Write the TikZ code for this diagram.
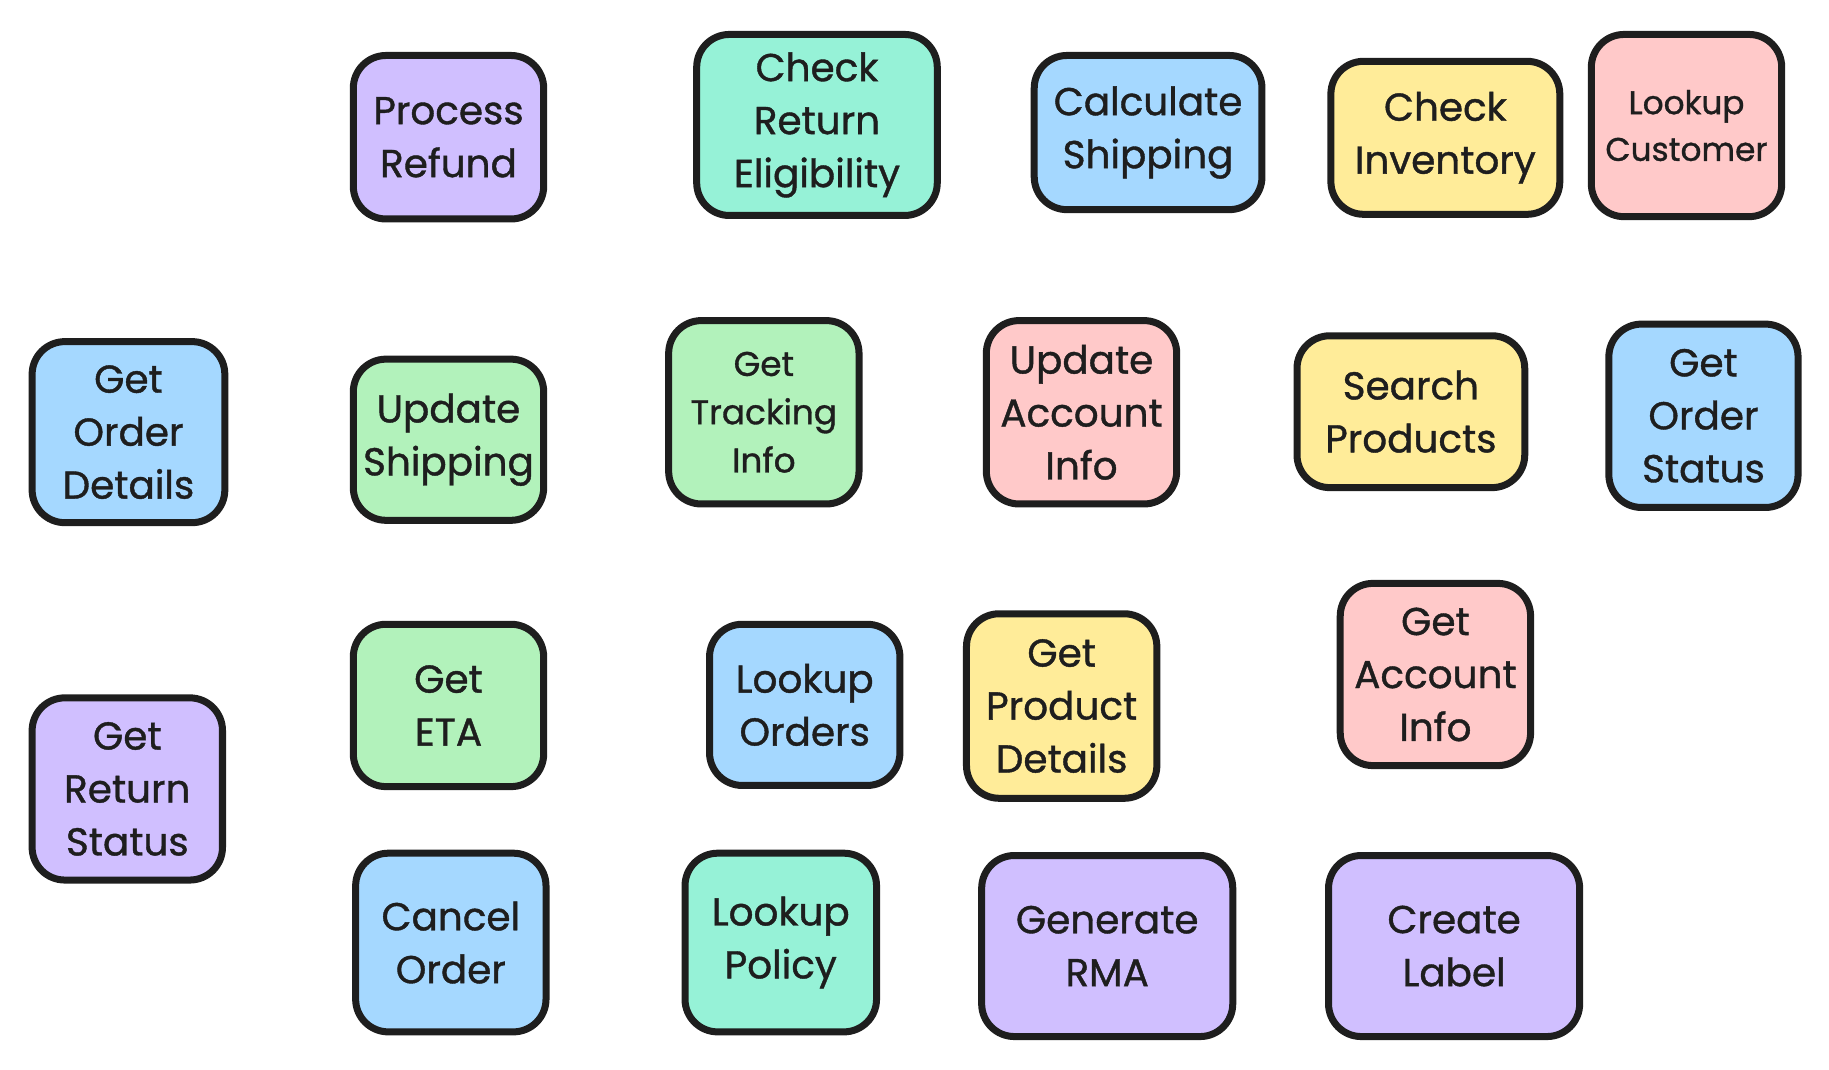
\documentclass[tikz,border=0pt]{standalone}
\usepackage{fontspec}
\setmainfont{Poppins}
\newfontfamily\handfont{Poppins}[FakeBold=1]
\definecolor{ink}{RGB}{30,30,30}
\definecolor{purp}{HTML}{D0BFFF}
\definecolor{teal}{HTML}{96F2D7}
\definecolor{sky}{HTML}{A5D8FF}
\definecolor{lemon}{HTML}{FFEC99}
\definecolor{rose}{HTML}{FFC9C9}
\definecolor{mint}{HTML}{B2F2BB}
\tikzset{
  tool/.style={draw=ink, line width=4.5pt, rounded corners=21pt, align=center, text=ink,
    inner sep=0pt, font=\handfont\fontsize{25}{34}\selectfont}
}
\begin{document}
\begin{tikzpicture}[x=0.75pt,y=0.75pt,yscale=-1,xscale=1]
\useasboundingbox (0,0) rectangle (1566,916);

%Row 1
\node [tool, fill=purp, minimum width=122.25pt, minimum height=105pt] (procRefund) at (384,117.5) {Process\\Refund};
\node [tool, fill=teal, minimum width=154.5pt, minimum height=116.25pt] (chkReturn) at (699.5,107) {Check\\Return\\Eligibility};
\node [tool, fill=sky, minimum width=146.25pt, minimum height=99pt] (calcShip) at (983,113.5) {Calculate\\Shipping};
\node [tool, fill=lemon, minimum width=147pt, minimum height=98.25pt] (chkInv) at (1237.5,118) {Check\\Inventory};
\node [tool, fill=rose, minimum width=122.25pt, minimum height=117pt, font=\handfont\fontsize{21}{30}\selectfont] (lookCust) at (1444,107.5) {Lookup\\Customer};

%Row 2
\node [tool, fill=sky, minimum width=123.75pt, minimum height=116.25pt] (getOrdDet) at (110,370) {Get\\Order\\Details};
\node [tool, fill=mint, minimum width=122.25pt, minimum height=103.5pt] (updShip) at (384,376.5) {Update\\Shipping};
\node [tool, fill=mint, minimum width=122.25pt, minimum height=117.75pt, font=\handfont\fontsize{22}{31}\selectfont] (getTrack) at (654,353) {Get\\Tracking\\Info};
\node [tool, fill=rose, minimum width=122.25pt, minimum height=117.75pt] (updAcct) at (926,353) {Update\\Account\\Info};
\node [tool, fill=lemon, minimum width=146.25pt, minimum height=97.5pt] (searchProd) at (1208,352.5) {Search\\Products};
\node [tool, fill=sky, minimum width=121.5pt, minimum height=117.75pt] (getOrdStat) at (1458.5,356) {Get\\Order\\Status};

%Row 3
\node [tool, fill=purp, minimum width=122.25pt, minimum height=117pt] (getRetStat) at (109,675.5) {Get\\Return\\Status};
\node [tool, fill=mint, minimum width=122.25pt, minimum height=104.25pt] (getEta) at (384,604) {Get\\ETA};
\node [tool, fill=sky, minimum width=122.25pt, minimum height=103.5pt] (lookOrders) at (689,603.5) {Lookup\\Orders};
\node [tool, fill=lemon, minimum width=122.25pt, minimum height=118.5pt] (getProdDet) at (909,604.5) {Get\\Product\\Details};
\node [tool, fill=rose, minimum width=122.25pt, minimum height=117pt] (getAcct) at (1229,577.5) {Get\\Account\\Info};

%Row 4
\node [tool, fill=sky, minimum width=122.25pt, minimum height=114.75pt] (cancelOrd) at (386,807) {Cancel\\Order};
\node [tool, fill=teal, minimum width=123pt, minimum height=114.75pt] (lookPolicy) at (668.5,807) {Lookup\\Policy};
\node [tool, fill=purp, minimum width=161.25pt, minimum height=116.25pt] (genRma) at (948,810) {Generate\\RMA};
\node [tool, fill=purp, minimum width=161.25pt, minimum height=116.25pt] (createLabel) at (1245,810) {Create\\Label};
\end{tikzpicture}
\end{document}
